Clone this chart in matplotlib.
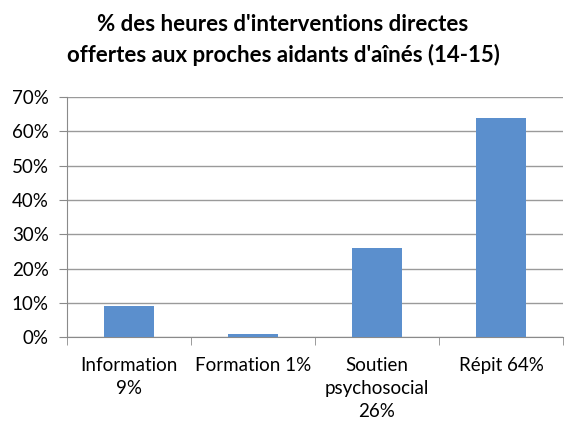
import matplotlib.pyplot as plt
import numpy as np
from matplotlib.ticker import PercentFormatter

# Data
categories = ['Information\n9%', 'Formation 1%', 'Soutien\npsychosocial\n26%', 'Répit 64%']
values = [9, 1, 26, 64]
yticks = [0, 10, 20, 30, 40, 50, 60, 70]

plt.rcParams['font.family'] = ['Lato', 'DejaVu Sans']

fig = plt.figure(figsize=(5.66, 4.24), dpi=100)
ax = fig.add_axes([0.118, 0.205, 0.877, 0.566])

index = np.arange(len(categories))
ax.bar(index, values, width=0.4, color='#5b8fcd', zorder=3)

ax.set_xlim(-0.5, len(categories) - 0.5)
ax.set_ylim(0, 70)
ax.set_yticks(yticks)
ax.yaxis.set_major_formatter(PercentFormatter(decimals=0))
ax.grid(axis='y', color='#9a9a9a', linewidth=1.0, zorder=0)

ax.set_xticks(index)
ax.set_xticklabels(categories, fontsize=13.5, linespacing=1.45)
ax.set_xticks(np.arange(len(categories) + 1) - 0.5, minor=True)
ax.tick_params(axis='x', which='major', length=0, pad=14)
ax.tick_params(axis='x', which='minor', length=6, color='#8a8a8a')
ax.tick_params(axis='y', length=6, color='#8a8a8a', labelsize=13.5, pad=7)

for side in ['top', 'right']:
    ax.spines[side].set_visible(False)
for side in ['left', 'bottom']:
    ax.spines[side].set_color('#8a8a8a')

fig.suptitle("% des heures d'interventions directes\noffertes aux proches aidants d'aînés (14-15)",
             fontsize=16, fontweight='bold', x=0.5, y=0.968, linespacing=1.5)

plt.savefig('out.png', dpi=100)
